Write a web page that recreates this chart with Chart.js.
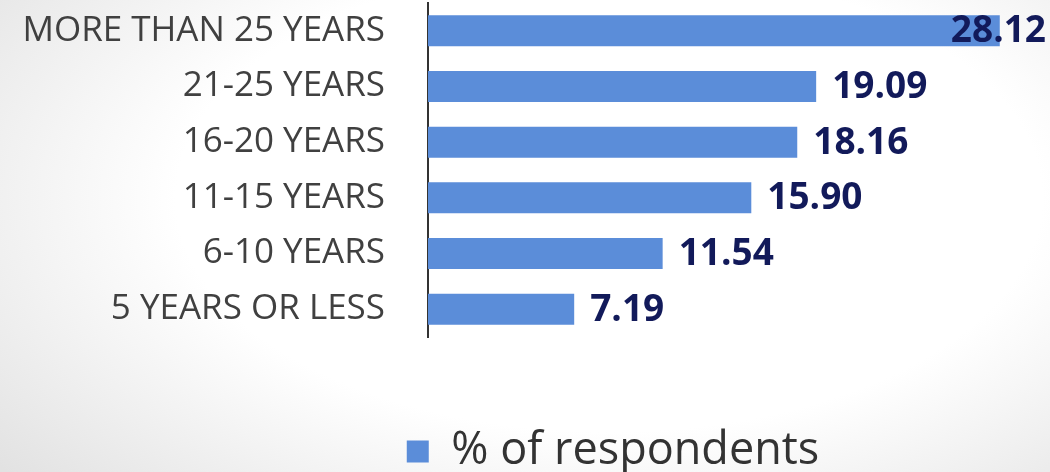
<!DOCTYPE html>
<html>
<head>
<meta charset="utf-8">
<script src="https://cdn.jsdelivr.net/npm/chart.js@4.4.1/dist/chart.umd.min.js"></script>
<style>
  html, body { margin: 0; padding: 0; overflow: hidden; }
  body {
    width: 1050px; height: 472px;
    background: radial-gradient(ellipse 75% 90% at 58% 42%, #ffffff 55%, #e2e2e2 100%);
  }
  #wrap { position: relative; width: 1050px; height: 484px; }
</style>
</head>
<body>
<div id="wrap"><canvas id="expChart"></canvas></div>
<script>
/* global Chart */

const categories = ['MORE THAN 25 YEARS', '21-25 YEARS', '16-20 YEARS', '11-15 YEARS', '6-10 YEARS', '5 YEARS OR LESS'];
const respondents = [28.12, 19.09, 18.16, 15.90, 11.54, 7.19];
const seriesLabel = '% of respondents';

const barColor = '#5b8dd9';
const labelColor = '#121a5a';
const legendShift = 94;

// value labels at the end of each bar, kept inside the canvas
const valueLabels = {
  id: 'valueLabels',
  afterDatasetsDraw(chart) {
    const { ctx } = chart;
    const meta = chart.getDatasetMeta(0);
    ctx.save();
    ctx.font = 'bold 37px "Open Sans"';
    ctx.fillStyle = labelColor;
    ctx.textBaseline = 'middle';
    ctx.textAlign = 'left';
    meta.data.forEach((bar, i) => {
      const text = respondents[i].toFixed(2);
      const w = ctx.measureText(text).width;
      let x = bar.x + 16;
      if (x + w > chart.width - 4) x = chart.width - 4 - w;
      ctx.fillText(text, x, bar.y + 1);
    });
    ctx.restore();
  },
};

// the legend sits right of centre in the original
const shiftLegend = {
  id: 'shiftLegend',
  afterLayout(chart) {
    chart.legend.left += legendShift;
    chart.legend.right += legendShift;
  },
};

function experienceChart() {
  const config = {
    type: 'bar',
    data: {
      labels: categories,
      datasets: [{
        label: seriesLabel,
        data: respondents,
        backgroundColor: barColor,
        borderWidth: 0,
        barPercentage: 0.62,
        categoryPercentage: 0.9,
      }],
    },
    options: {
      indexAxis: 'y',
      responsive: true,
      maintainAspectRatio: false,
      animation: false,
      layout: { padding: { top: 3, left: 0, right: 12, bottom: 0 } },
      plugins: {
        tooltip: { enabled: false },
        legend: {
          position: 'bottom',
          labels: {
            padding: 92,
            boxWidth: 22,
            boxHeight: 22,
            color: '#333333',
            font: { family: 'Open Sans', size: 45 },
          },
        },
      },
      scales: {
        x: {
          display: false,
          min: 0,
          max: 30,
        },
        y: {
          grid: { display: false, drawTicks: false },
          border: { display: true, color: '#333333', width: 2 },
          ticks: {
            padding: 43,
            color: '#404040',
            font: { family: 'Open Sans', size: 35 },
          },
          afterFit: (axis) => {
            axis.width = 428;
            axis.paddingTop = 0;
            axis.paddingBottom = 0;
          },
        },
      },
    },
    plugins: [valueLabels, shiftLegend],
  };

  return new Chart(document.getElementById('expChart'), config);
}

experienceChart();
</script>
</body>
</html>
